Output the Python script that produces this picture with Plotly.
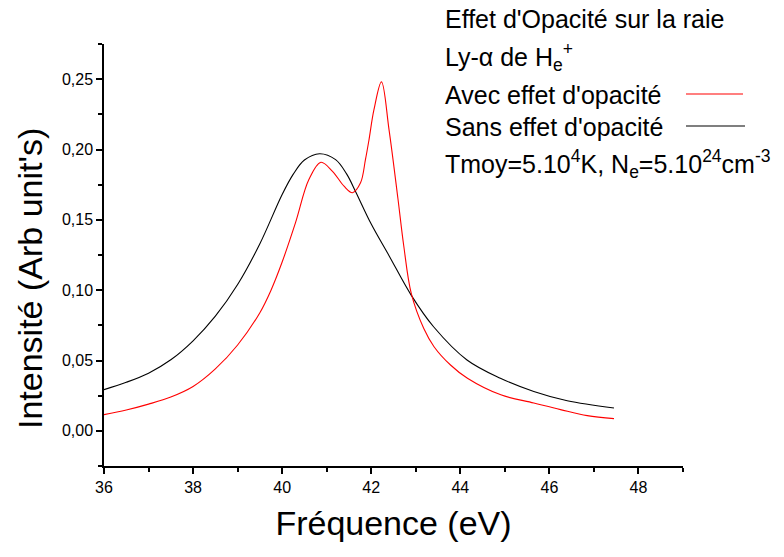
import plotly.graph_objects as go

# Data
freq_sans = [36.0, 36.5, 37.0, 37.5, 38.0, 38.5, 39.0, 39.5, 40.0, 40.25,
             40.5, 40.84, 41.2, 41.45, 41.65, 42.0, 42.4, 42.9, 43.4, 44.15,
             44.9, 45.65, 46.4, 47.45]
int_sans = [0.0293, 0.0345, 0.0410, 0.0505, 0.0640, 0.0815, 0.1040, 0.1330, 0.1680, 0.1825,
            0.1925, 0.1970, 0.1928, 0.1825, 0.1700, 0.1470, 0.1245, 0.0963, 0.0740, 0.0504,
            0.0374, 0.0280, 0.0214, 0.0162]

freq_avec = [36.0, 36.5, 37.0, 37.5, 38.0, 38.5, 39.0, 39.5, 39.75, 40.0,
             40.3, 40.6, 40.87, 41.13, 41.39, 41.58, 41.76, 41.87, 41.95, 42.06,
             42.23, 42.4, 42.6, 42.73, 42.9, 43.18, 43.41, 43.78, 44.16, 44.91,
             45.65, 46.25, 46.85, 47.45]
int_avec = [0.0115, 0.0148, 0.0190, 0.0240, 0.0315, 0.0440, 0.0610, 0.0840, 0.1000, 0.1200,
            0.1480, 0.1786, 0.1909, 0.1845, 0.1739, 0.1693, 0.1763, 0.1928, 0.2069, 0.2281,
            0.2481, 0.2140, 0.1650, 0.1316, 0.0975, 0.0727, 0.0598, 0.0468, 0.0374, 0.0256,
            0.0198, 0.0151, 0.0108, 0.0087]

x_ticks = [36, 38, 40, 42, 44, 46, 48]
y_ticks = [0.00, 0.05, 0.10, 0.15, 0.20, 0.25]

legend_lines = [
    "Effet d'Opacité sur la raie",
    "Ly-α de H<sub>e</sub><sup>+</sup>",
    "Avec effet d'opacité",
    "Sans effet d'opacité",
    "Tmoy=5.10<sup>4</sup>K, N<sub>e</sub>=5.10<sup>24</sup>cm<sup>-3</sup>",
]

W, H = 784, 557
L, R, T, B = 104, 101, 44, 91
FONT = "Liberation Sans, Arial, sans-serif"

def px(x):
    return (x - L) / (W - L - R)

def py(y):
    return 1 - (y - T) / (H - T - B)

fig = go.Figure()
fig.add_trace(go.Scatter(x=freq_sans, y=int_sans, mode="lines",
                         line=dict(color="black", width=1.1, shape="spline", smoothing=1.0),
                         name="Sans effet d'opacité", showlegend=False))
fig.add_trace(go.Scatter(x=freq_avec, y=int_avec, mode="lines",
                         line=dict(color="#ff0000", width=1.1, shape="spline", smoothing=1.0),
                         name="Avec effet d'opacité", showlegend=False))

axis_common = dict(showgrid=False, zeroline=False, showline=True, linecolor="black",
                   linewidth=1.5, ticks="outside", ticklen=6, tickwidth=1.5,
                   tickcolor="black", tickfont=dict(family=FONT, size=16, color="black"))

fig.update_xaxes(range=[36, 49], tickvals=x_ticks, ticktext=[str(v) for v in x_ticks],
                 minor=dict(dtick=1, ticks="outside", ticklen=4, tickcolor="black", tickwidth=1.5),
                 title=dict(text="Fréquence (eV)", font=dict(family=FONT, size=34, color="black"),
                            standoff=16),
                 **axis_common)
fig.update_yaxes(range=[-0.025, 0.275], tickvals=y_ticks, tickformat=".2f",
                 minor=dict(dtick=0.025, tick0=0, ticks="outside", ticklen=4, tickcolor="black", tickwidth=1.5),
                 **axis_common)

# y-axis title placed as in the reference
fig.add_annotation(text="Intensité (Arb unit's)", xref="paper", yref="paper",
                   x=px(30), y=py(279), textangle=-90, showarrow=False,
                   font=dict(family=FONT, size=34, color="black"),
                   xanchor="center", yanchor="middle")

legend_y = [19, 57, 95, 127, 164]
for txt, yy in zip(legend_lines, legend_y):
    fig.add_annotation(text=txt, xref="paper", yref="paper", x=px(443), y=py(yy),
                       xanchor="left", yanchor="middle", showarrow=False,
                       font=dict(family=FONT, size=25, color="black"))

# legend line samples
fig.add_shape(type="line", xref="paper", yref="paper", x0=px(686), x1=px(743),
              y0=py(94), y1=py(94), line=dict(color="#ff0000", width=1.2))
fig.add_shape(type="line", xref="paper", yref="paper", x0=px(686), x1=px(745),
              y0=py(126), y1=py(126), line=dict(color="black", width=1.2))

fig.update_layout(width=W, height=H, margin=dict(l=L, r=R, t=T, b=B),
                  plot_bgcolor="white", paper_bgcolor="white", separators=", ",
                  font=dict(family=FONT, color="black"))

fig.write_html("out.html")
